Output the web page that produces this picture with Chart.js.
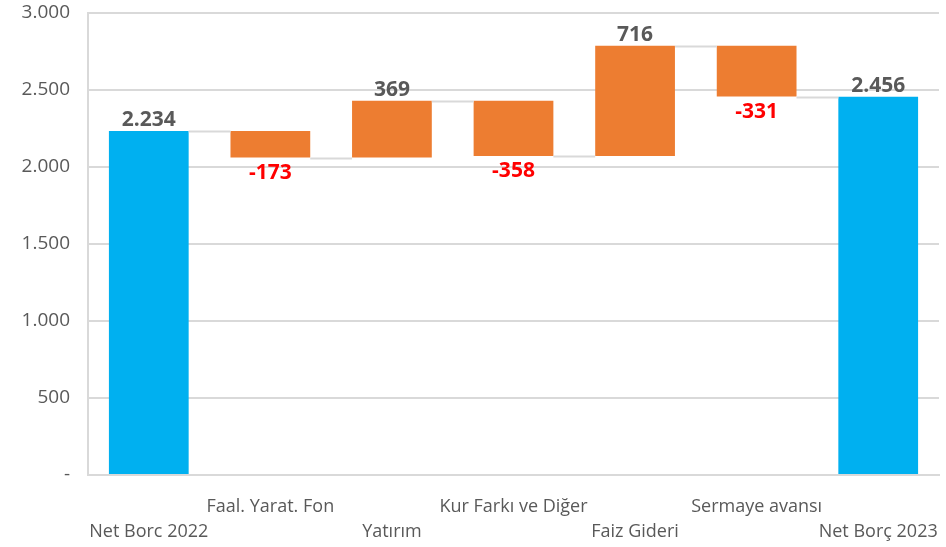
<!DOCTYPE html>
<html>
<head>
<meta charset="utf-8">
<script src="https://cdn.jsdelivr.net/npm/chart.js@4"></script>
<style>
  html, body { margin: 0; padding: 0; background: #ffffff; }
  #wrap { width: 946px; height: 547px; }
</style>
</head>
<body>
<div id="wrap"><canvas id="chart"></canvas></div>
<script>
const categories = ["Net Borc 2022", "Faal. Yarat. Fon", "Yatırım", "Kur Farkı ve Diğer", "Faiz Gideri", "Sermaye avansı", "Net Borç 2023"];
const changes = [2234, -173, 369, -358, 716, -331, 2456];
const isTotal = [true, false, false, false, false, false, true];
const yTicks = [0, 500, 1000, 1500, 2000, 2500, 3000];

const BLUE = "#00B0F0";
const ORANGE = "#ED7D31";
const GRID = "#d9d9d9";
const TEXT = "#595959";

// build floating bars from the running total
const ranges = [];
let running = 0;
changes.forEach((v, i) => {
  if (isTotal[i]) {
    ranges.push([0, v]);
    running = v;
  } else {
    ranges.push([running, running + v]);
    running += v;
  }
});

function formatNum(v) {
  if (v === 0) return "-";
  const s = Math.abs(v).toString().replace(/\B(?=(\d{3})+(?!\d))/g, ".");
  return (v < 0 ? "-" : "") + s;
}

// staggered x labels: odd ones on the upper row
const xLabels = categories.map((c, i) => (i % 2 === 1 ? [c, ""] : ["", c]));

const waterfallExtras = {
  id: "waterfallExtras",
  afterDatasetsDraw(chart) {
    const ctx = chart.ctx;
    const meta = chart.getDatasetMeta(0);
    const y = chart.scales.y;
    ctx.save();
    // connectors
    ctx.strokeStyle = GRID;
    ctx.lineWidth = 2;
    for (let i = 0; i < ranges.length - 1; i++) {
      const level = ranges[i][1];
      const a = meta.data[i];
      const b = meta.data[i + 1];
      const py = Math.round(y.getPixelForValue(level)) + 0.5;
      ctx.beginPath();
      ctx.moveTo(a.x + a.width / 2, py);
      ctx.lineTo(b.x - b.width / 2, py);
      ctx.stroke();
    }
    // value labels
    ctx.font = "bold 21px 'Open Sans', sans-serif";
    ctx.textAlign = "center";
    changes.forEach((v, i) => {
      const bar = meta.data[i];
      const top = y.getPixelForValue(Math.max(ranges[i][0], ranges[i][1]));
      const bottom = y.getPixelForValue(Math.min(ranges[i][0], ranges[i][1]));
      if (v < 0) {
        ctx.fillStyle = "#FF0000";
        ctx.textBaseline = "top";
        ctx.fillText(formatNum(v), bar.x, bottom + 5);
      } else {
        ctx.fillStyle = TEXT;
        ctx.textBaseline = "bottom";
        ctx.fillText(formatNum(v), bar.x, top);
      }
    });
    ctx.restore();
  }
};

new Chart(document.getElementById("chart"), {
  type: "bar",
  data: {
    labels: xLabels,
    datasets: [{
      data: ranges,
      backgroundColor: isTotal.map((t) => (t ? BLUE : ORANGE)),
      barPercentage: 0.656,
      categoryPercentage: 1.0,
      borderWidth: 0
    }]
  },
  options: {
    responsive: true,
    maintainAspectRatio: false,
    animation: false,
    layout: { padding: { top: 13, right: 7, left: 0, bottom: 0 } },
    plugins: {
      legend: { display: false },
      tooltip: { enabled: false }
    },
    scales: {
      x: {
        grid: { display: false, drawTicks: false },
        border: { display: true, color: GRID, width: 2 },
        ticks: {
          color: TEXT,
          maxRotation: 0,
          autoSkip: false,
          padding: 19,
          font: { family: "'Open Sans', sans-serif", size: 18, lineHeight: 1.39 }
        },
        afterFit(scale) {
          scale.height = 72;
          scale.paddingLeft = 0;
          scale.paddingRight = 0;
        }
      },
      y: {
        min: 0,
        max: 3000,
        afterBuildTicks(scale) { scale.ticks = yTicks.map((v) => ({ value: v })); },
        grid: { color: GRID, lineWidth: 2, drawTicks: false },
        border: { display: true, color: GRID, width: 2 },
        ticks: {
          color: TEXT,
          padding: 18,
          font: { family: "'Open Sans', sans-serif", size: 19 },
          callback: (v) => formatNum(v)
        },
        afterFit(scale) {
          scale.width = 88;
          scale.paddingTop = 0;
          scale.paddingBottom = 0;
        }
      }
    }
  },
  plugins: [waterfallExtras]
});
</script>
</body>
</html>
